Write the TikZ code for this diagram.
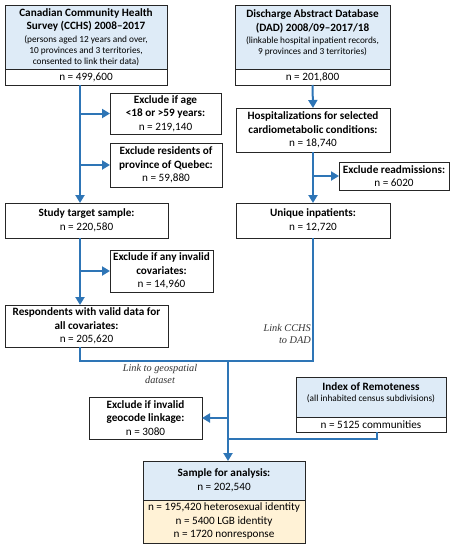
\documentclass[tikz,border=0pt]{standalone}
\usepackage{fontspec}
\setmainfont{Carlito}
\newfontfamily\labfont{Liberation Serif}
\usetikzlibrary{arrows.meta}
\definecolor{lineblue}{RGB}{46,117,182}
\definecolor{hdrblue}{RGB}{222,235,247}
\definecolor{ltyellow}{RGB}{255,242,214}
\definecolor{bordergray}{RGB}{38,38,38}
\newcommand{\smalltxt}{\fontsize{9.3}{11}\selectfont}
\begin{document}
\begin{tikzpicture}[x=1pt,y=1pt,
  box/.style={draw=bordergray, line width=0.8pt, align=center, inner sep=1pt, outer sep=0pt,
    anchor=north west, font=\fontsize{11.2}{13.5}\selectfont},
  flow/.style={draw=lineblue, line width=2pt},
  arr/.style={flow, -{Triangle[length=8pt,width=9pt]}},
  lab/.style={font=\labfont\itshape\fontsize{10.3}{12}\selectfont, text=black!80, inner sep=0pt}]
\useasboundingbox (0,0) rectangle (457,-550);

% left column
\node[box, fill=hdrblue, minimum width=162pt, minimum height=64pt] (cchsT) at (5,-5)
  {\textbf{Canadian Community Health}\\\textbf{Survey (CCHS) 2008–2017}\\[-1pt]
   {\smalltxt (persons aged 12 years and over,}\\[-2.5pt]
   {\smalltxt 10 provinces and 3 territories,}\\[-2.5pt]
   {\smalltxt consented to link their data)}};
\node[box, fill=white, minimum width=162pt, minimum height=16pt] (cchsN) at (cchsT.south west) {n = 499,600};

\node[box, minimum width=111pt, minimum height=41pt] (age) at (110,-93)
  {\textbf{Exclude if age}\\\textbf{<18 or >59 years:}\\n = 219,140};
\node[box, minimum width=112pt, minimum height=44pt] (quebec) at (110,-143)
  {\textbf{Exclude residents of}\\\textbf{province of Quebec:}\\n = 59,880};
\node[box, minimum width=163pt, minimum height=35pt] (study) at (5,-203)
  {\textbf{Study target sample:}\\n = 220,580};
\node[box, minimum width=103pt, minimum height=42pt] (covar) at (110,-250)
  {\textbf{Exclude if any invalid}\\\textbf{covariates:}\\n = 14,960};
\node[box, minimum width=163pt, minimum height=42pt] (resp) at (5,-305)
  {\textbf{Respondents with valid data for}\\\textbf{all covariates:}\\n = 205,620};

% right column
\node[box, fill=hdrblue, minimum width=155pt, minimum height=64pt] (dadT) at (235,-5)
  {\textbf{Discharge Abstract Database}\\\textbf{(DAD) 2008/09–2017/18}\\[-1pt]
   {\smalltxt (linkable hospital inpatient records,}\\[-2.5pt]
   {\smalltxt 9 provinces and 3 territories)}\\[-4pt]\rule{0pt}{10pt}};
\node[box, fill=white, minimum width=155pt, minimum height=16pt] (dadN) at (dadT.south west) {n = 201,800};

\node[box, minimum width=154pt, minimum height=44pt] (hosp) at (236,-108)
  {\textbf{Hospitalizations for selected}\\\textbf{cardiometabolic conditions:}\\n = 18,740};
\node[box, minimum width=110pt, minimum height=28pt] (readm) at (339,-162)
  {\textbf{Exclude readmissions:}\\n = 6020};
\node[box, minimum width=154pt, minimum height=35pt] (unique) at (236,-203)
  {\textbf{Unique inpatients:}\\n = 12,720};

% bottom
\node[box, minimum width=113pt, minimum height=42pt] (geo) at (89,-397)
  {\textbf{Exclude if invalid}\\\textbf{geocode linkage:}\\n = 3080};
\node[box, fill=hdrblue, minimum width=150pt, minimum height=40pt] (indexT) at (296,-377)
  {\textbf{Index of Remoteness}\\[-2pt]{\smalltxt (all inhabited census subdivisions)}\\[-4pt]\rule{0pt}{9pt}};
\node[box, fill=white, minimum width=150pt, minimum height=15pt] (indexN) at (indexT.south west) {n = 5125 communities};

\node[box, fill=hdrblue, minimum width=162pt, minimum height=39pt] (sampT) at (143,-461)
  {\textbf{Sample for analysis:}\\n = 202,540};
\node[box, fill=ltyellow, minimum width=162pt, minimum height=43pt] (sampN) at (sampT.south west)
  {n = 195,420 heterosexual identity\\n = 5400 LGB identity\\n = 1720 nonresponse};

% labels
\node[lab, align=center] (lgeo) at (160,-374) {Link to geospatial\\dataset};
\node[lab, align=right, anchor=east] (ldad) at (311,-334) {Link CCHS\\to DAD};

% connectors
\coordinate (lx) at (80,0);
\coordinate (ix) at (377,0);
\coordinate (mx) at (228,-361);
\coordinate (jx) at (228,-439);

\draw[arr] (lx |- cchsN.south) -- (lx |- study.north);
\draw[arr] (lx |- age.west) -- (age.west);
\draw[arr] (lx |- quebec.west) -- (quebec.west);
\draw[arr] (lx |- study.south) -- (lx |- resp.north);
\draw[arr] (lx |- covar.west) -- (covar.west);

\draw[arr] (dadN.south) -- (hosp.north);
\draw[arr] (hosp.south) -- (unique.north);
\draw[arr] (hosp.south |- readm.west) -- (readm.west);

\draw[flow] (lx |- resp.south) |- (mx);
\draw[flow] (unique.south) |- (mx);
\draw[arr] (mx) -- (mx |- sampT.north);
\draw[arr] (mx |- geo.east) -- (geo.east);
\draw[flow] (ix |- indexN.south) |- (jx);
\end{tikzpicture}
\end{document}
